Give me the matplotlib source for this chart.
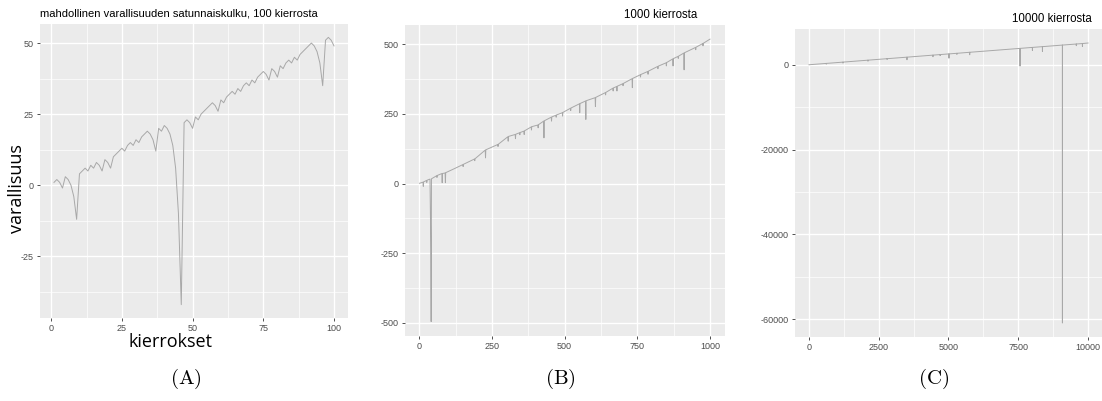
import matplotlib
matplotlib.use("Agg")
import matplotlib.pyplot as plt
from matplotlib.ticker import FixedLocator

plt.rcParams['axes.unicode_minus'] = False
plt.rcParams['font.family'] = ['Liberation Sans', 'DejaVu Sans']
plt.rcParams['mathtext.fontset'] = 'cm'

# (A) 100 rounds, read point by point
rounds_a = list(range(1, 101))
wealth_a = [1, 2, 1, -1, 3, 2, 0, -4, -12, 4,
            5, 6, 5, 7, 6, 8, 7, 5, 9, 8,
            6, 10, 11, 12, 13, 12, 14, 15, 14, 16,
            15, 17, 18, 19, 18, 16, 12, 20, 19, 21,
            20, 18, 14, 6, -10, -42, 22, 23, 22, 20,
            24, 23, 25, 26, 27, 28, 29, 28, 26, 30,
            29, 31, 32, 33, 32, 34, 33, 35, 36, 35,
            37, 36, 38, 39, 40, 39, 37, 41, 40, 38,
            42, 41, 43, 44, 43, 45, 44, 46, 47, 48,
            49, 50, 49, 47, 43, 35, 51, 52, 51, 49]

# (B) 1000 rounds, key points (trend + visible dips)
rounds_b = [1, 13, 14, 15, 25, 26, 27, 37, 40, 41, 42, 60, 61, 62, 78, 79, 80, 89, 90, 91,
            122, 150, 151, 152, 190, 191, 192, 227, 228, 229, 270, 271, 272, 305, 306, 307,
            330, 331, 332, 345, 346, 347, 360, 361, 362, 385, 386, 387, 408, 409, 410,
            428, 429, 430, 454, 455, 456, 470, 471, 472, 492, 493, 494, 520, 521, 522,
            551, 552, 553, 572, 573, 574, 605, 606, 607, 640, 641, 642, 666, 667, 668,
            679, 680, 681, 700, 701, 702, 732, 733, 734, 760, 761, 762, 786, 787, 788,
            820, 821, 822, 849, 850, 851, 872, 873, 874, 890, 891, 892, 910, 911, 912,
            950, 951, 952, 975, 976, 977, 1000]
wealth_b = [1, 5, -10, 6, 11, 4, 12, 16, -239, -495, 17, 28, 22, 29, 36, 3, 36, 38, 3, 39,
            54, 68, 61, 69, 88, 82, 89, 120, 92, 121, 140, 133, 141, 168, 152, 169,
            176, 161, 177, 182, 175, 183, 188, 176, 189, 203, 192, 204, 210, 200, 211,
            224, 164, 225, 238, 224, 239, 245, 238, 246, 254, 242, 255, 270, 262, 271,
            286, 254, 287, 296, 230, 297, 308, 276, 309, 326, 318, 327, 342, 332, 343,
            348, 332, 349, 358, 351, 359, 376, 344, 377, 390, 382, 391, 402, 392, 403,
            420, 412, 421, 433, 422, 434, 447, 422, 448, 456, 449, 457, 468, 408, 469,
            488, 480, 489, 502, 494, 503, 518]

# (C) 10000 rounds, key points
rounds_c = [1, 620, 621, 622, 1218, 1219, 1220, 2114, 2115, 2116, 2800, 2801, 2802,
            3512, 3513, 3514, 4443, 4444, 4445, 4700, 4701, 4702,
            5017, 5018, 5019, 5300, 5301, 5302, 5759, 5760, 5761, 7562, 7563, 7564,
            8006, 8007, 8008, 8365, 8366, 8367, 9081, 9082, 9083, 9579, 9580, 9581,
            9798, 9799, 9800, 10000]
wealth_c = [0, 315, 150, 316, 620, 400, 621, 1080, 850, 1081, 1430, 1250, 1431,
            1790, 1180, 1791, 2270, 1900, 2271, 2400, 2150, 2401,
            2560, 1550, 2561, 2700, 2450, 2701, 2940, 2360, 2941, 3860, -300, 3861,
            4090, 3380, 4091, 4270, 3150, 4271, 4640, -60900, 4641, 4890, 4500, 4891,
            5000, 4330, 5001, 5130]

W, H = 1102, 401
fig = plt.figure(figsize=(W / 100, H / 100), dpi=100)


def box(l, t, r, b):
    return [l / W, 1 - b / H, (r - l) / W, (b - t) / H]


def gg(ax, xmaj, xmin, ymaj, ymin):
    ax.set_facecolor('#EBEBEB')
    for s in ax.spines.values():
        s.set_visible(False)
    ax.xaxis.set_major_locator(FixedLocator(xmaj))
    ax.xaxis.set_minor_locator(FixedLocator(xmin))
    ax.yaxis.set_major_locator(FixedLocator(ymaj))
    ax.yaxis.set_minor_locator(FixedLocator(ymin))
    ax.grid(which='major', color='white', lw=1.0)
    ax.grid(which='minor', color='white', lw=0.5)
    ax.set_axisbelow(True)
    ax.tick_params(which='major', length=2.5, width=0.6, color='#333333',
                   labelsize=6.5, labelcolor='#4D4D4D', pad=2)
    ax.tick_params(which='minor', length=0)
    ax.margins(0.05)


line_kw = dict(color='#A8A8A8', lw=0.7)
big = ['Open Sans', 'DejaVu Sans']

ax1 = fig.add_axes(box(40, 24, 348, 318))
ax1.plot(rounds_a, wealth_a, **line_kw)
gg(ax1, [0, 25, 50, 75, 100], [12.5, 37.5, 62.5, 87.5],
   [-25, 0, 25, 50], [-37.5, -12.5, 12.5, 37.5])
fig.text(170 / W, 1 - 342 / H, 'kierrokset', fontsize=13, family=big,
         ha='center', va='center')
fig.text(17 / W, 1 - 189 / H, 'varallisuus', fontsize=13, family=big,
         ha='center', va='center', rotation=90)
fig.text(40 / W, 1 - 14 / H, 'mahdollinen varallisuuden satunnaiskulku, 100 kierrosta',
         fontsize=8, ha='left', va='center', color='black')

ax2 = fig.add_axes(box(405, 25, 724.5, 335.7))
ax2.plot(rounds_b, wealth_b, **line_kw)
gg(ax2, [0, 250, 500, 750, 1000], [125, 375, 625, 875],
   [-500, -250, 0, 250, 500], [-375, -125, 125, 375])
fig.text(624 / W, 1 - 15 / H, '1000 kierrosta', fontsize=8.3, ha='left', va='center')

ax3 = fig.add_axes(box(795, 29, 1102, 337))
ax3.plot(rounds_c, wealth_c, **line_kw)
gg(ax3, [0, 2500, 5000, 7500, 10000], [1250, 3750, 6250, 8750],
   [-60000, -40000, -20000, 0], [-50000, -30000, -10000])
fig.text(1012 / W, 1 - 19 / H, '10000 kierrosta', fontsize=8.3, ha='left', va='center')

for xc, lab in [(186, 'A'), (560, 'B'), (934, 'C')]:
    fig.text(xc / W, 1 - 379 / H, r'$(\mathrm{' + lab + r'})$', fontsize=15,
             ha='center', va='center')

fig.savefig('out.png', dpi=100)
